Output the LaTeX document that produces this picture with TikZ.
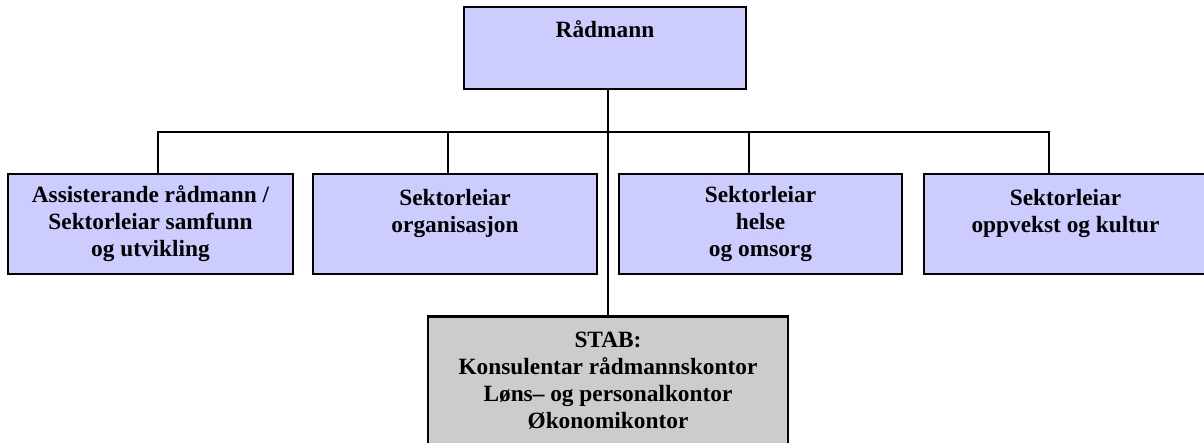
\documentclass[tikz,border=0pt]{standalone}
\usepackage{fontspec}
\setmainfont{Liberation Serif}
\definecolor{boxblue}{HTML}{CCCCFF}
\definecolor{boxgrey}{HTML}{CCCCCC}
\tikzset{
  orgbox/.style={draw=black, line width=1.6pt, fill=boxblue, align=center, inner sep=0pt,
    font=\fontsize{17.5}{20.25}\selectfont\bfseries},
  stabbox/.style={orgbox, fill=boxgrey},
  link/.style={line width=0.9pt}
}
\begin{document}
\begin{tikzpicture}[x=0.75pt,y=0.75pt,yscale=-1]
\useasboundingbox (0,0) rectangle (1204,443);

%Shape: Rectangle (top)
\node[orgbox, minimum width=282*0.75pt, minimum height=82*0.75pt] (rad) at (605,48) {Rådmann\\[7.5pt]~};
%Shape: Rectangle (sectors)
\node[orgbox, minimum width=285*0.75pt, minimum height=100*0.75pt] (assist) at (150.5,224) {Assisterande rådmann /\\Sektorleiar samfunn\\og utvikling};
\node[orgbox, minimum width=284*0.75pt, minimum height=100*0.75pt] (org) at (455,224) {Sektorleiar\\organisasjon\\~};
\node[orgbox, minimum width=283*0.75pt, minimum height=100*0.75pt] (helse) at (760.5,224) {Sektorleiar\\helse\\og omsorg};
\node[orgbox, minimum width=283*0.75pt, minimum height=100*0.75pt] (oppvekst) at (1065.5,224) {Sektorleiar\\oppvekst og kultur\\~};
%Shape: Rectangle (stab)
\node[stabbox, minimum width=360*0.75pt, minimum height=129*0.75pt] (stab) at (608,381) {STAB:\\Konsulentar rådmannskontor\\Løns-- og personalkontor\\Økonomikontor};

%Straight Lines
\coordinate (bus) at (608,132);
\coordinate (d1) at (158,132);
\coordinate (d2) at (448,132);
\coordinate (d3) at (749,132);
\coordinate (d4) at (1049,132);
\draw[link] (bus |- rad.south) -- (bus |- stab.north);
\draw[link] (d1 |- assist.north) -- (d1) -- (d4) -- (d4 |- oppvekst.north);
\draw[link] (d2) -- (d2 |- org.north);
\draw[link] (d3) -- (d3 |- helse.north);

\end{tikzpicture}
\end{document}
